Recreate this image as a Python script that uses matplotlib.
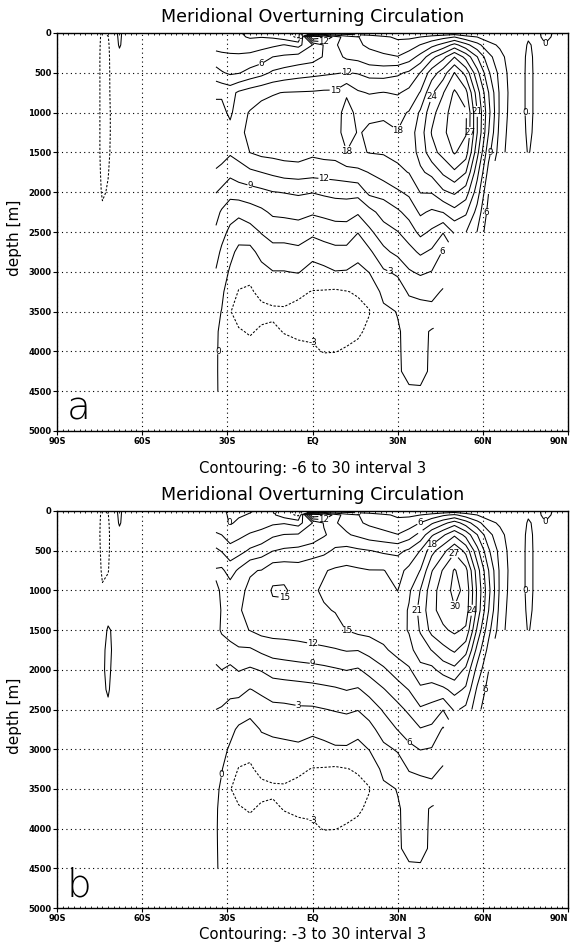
import numpy as np
import matplotlib
matplotlib.use("Agg")
import matplotlib.pyplot as plt

nan = np.nan

# ---------------- data ----------------
depth = [0, 50, 150, 300, 500, 750, 1000, 1250, 1500, 1750, 2000, 2250,
         2500, 2750, 3000, 3250, 3500, 3750, 4000, 4250, 4500]

lat_atl = [-34, -32, -29, -26, -22, -18, -14, -10, -5, 0, 4, 8, 12, 16, 20, 25,
           30, 34, 38, 42, 46, 50, 54, 58, 62, 66, 70, 73, 76, 79, 82, 86, 90]

NN = [nan] * 12          # below sea floor (north of 65N)

# Atlantic streamfunction [Sv], panel a : one list per latitude (top -> bottom)
psi_atl_a = [
    [0.5, 1, 2, 4, 7.2, 11.5, 13, 13.6, 13.3, 11.7, 9.1, 7, 5.5, 4, 2.8, 1.6, 0.8, 0.5, 0.4, 0.3, 0.2],
    [0.5, 1, 1.9, 3.7, 6.3, 11.5, 13, 14, 13.4, 11, 8.3, 5.6, 4, 2.5, 1.5, 0.7, -0.1, -0.8, -0.9, -0.7, -0.4],
    [0.3, 0.8, 1.8, 3.5, 5.5, 11, 11.3, 13.2, 12.4, 9.8, 7, 4.2, 2.3, 0.8, -0.4, -2, -2.9, -2.5, -1.8, -1.2, -0.6],
    [0.2, 0.5, 1.6, 3.5, 5.8, 12.5, 14, 14.5, 13.2, 10.5, 7.5, 3.7, 1.3, -0.7, -2.2, -3.1, -3.8, -2.8, -2, -1.3, -0.6],
    [-0.5, -0.3, 1.5, 3.8, 7, 13.5, 15.2, 15.5, 15.05, 11.4, 7.8, 4.6, 1.8, -0.9, -2.4, -3.3, -4, -3.2, -2.3, -1.5, -0.7],
    [-0.8, -0.1, 2, 4.5, 8, 14.3, 16, 16.5, 15.8, 12, 8.3, 5.4, 3.2, 1, -1, -2.4, -3.6, -2.7, -2, -1.3, -0.6],
    [-1, -0.4, 2.4, 6, 9.5, 14.8, 16.2, 16.8, 16, 12.6, 8.9, 6.5, 4.2, 2, -0.1, -2, -3.4, -2.6, -1.9, -1.2, -0.6],
    [-2.5, -1.5, 3.1, 6.5, 10.2, 15.1, 16.5, 17, 16.3, 13.2, 9.1, 6.7, 4.2, 2, -0.1, -1.8, -3.4, -3.1, -2.2, -1.4, -0.6],
    [-3.5, -3.6, 2, 7.2, 10.8, 15.2, 16.8, 17.2, 16.5, 13.4, 9.4, 7, 4.5, 2.3, 0.2, -2.6, -3.6, -3.3, -2.6, -1.6, -0.7],
    [-0.3, 18, 6, 7.8, 11.2, 15.3, 17, 17.3, 15.6, 13.1, 9.1, 6.4, 3.6, 1.2, -1.3, -3.1, -3.8, -3.4, -2.7, -1.7, -0.8],
    [0.5, 16, 9.2, 9.2, 11.5, 15.5, 17.2, 17.5, 16, 13.2, 9.5, 6.8, 4.1, 1.8, -0.8, -3.2, -4, -3.6, -3.1, -1.8, -0.8],
    [0.5, 10.5, 9.2, 10, 11.8, 15.5, 16.2, 16.5, 16.1, 13.4, 9.8, 7.2, 4.6, 2.2, -0.1, -3.4, -4.1, -3.8, -3.05, -1.9, -0.9],
    [0.5, 7.5, 8.2, 8.5, 12.1, 17.5, 19.5, 19.5, 17.9, 13.8, 9.9, 7.3, 4.6, 2.2, -0.2, -3.1, -4, -3.6, -2.8, -1.8, -0.8],
    [0.5, 6.1, 6.4, 8.1, 11.8, 15.4, 17, 17.8, 17.6, 14.3, 10, 6.4, 3.1, 1.2, -1, -2.7, -3.8, -3.3, -2.5, -1.6, -0.8],
    [0.5, 5, 5.5, 7, 11, 14.8, 17.5, 18.4, 18.1, 15.1, 12.8, 7.9, 5.4, 2.4, 0.1, -2.2, -3.1, -2.6, -2, -1.3, -0.7],
    [0.5, 3.5, 4.5, 6.6, 10.8, 15.1, 17.6, 18.6, 18.2, 16.5, 13, 10.3, 7.6, 5.3, 2.6, 0.8, -0.6, -1, -1, -0.8, -0.5],
    [0.5, 2.5, 4, 6.1, 11.5, 14.7, 17.3, 18.1, 18.7, 17.4, 14.6, 11.5, 8.9, 6.8, 3.5, 1.5, 0.1, -0.2, -0.2, -0.2, -0.3],
    [0.5, 2.5, 4.5, 7.5, 12.5, 15.8, 18.2, 19.5, 19.3, 18.1, 15.6, 13, 10.5, 8, 5.7, 3.4, 1.5, 0.6, 0.5, 0.4, -0.2],
    [0.5, 3, 6.1, 10, 15.1, 18.2, 21.5, 22.5, 22, 20.5, 18.1, 15.5, 12.8, 9.5, 6.5, 3.8, 1.8, 0.8, 0.6, 0.5, -0.2],
    [0.5, 4, 8, 14, 19.5, 23.5, 26, 27.2, 26, 21.8, 18.2, 14.5, 11.5, 8.5, 5.9, 3.8, 2.2, -0.3, -0.3, -0.3, -0.3],
    [0.5, 5, 10, 17, 22.5, 26.8, 28.8, 29.5, 28, 24.5, 20.5, 15.1, 9.2, 5.7, 4.5, 2.7, 1.5, nan, nan, nan, nan],
    [1, 6, 13, 20.9, 27.1, 30.5, 31.5, 31.3, 30.3, 26.5, 21.5, 17, 12.5] + [nan] * 8,
    [0.5, 4, 10, 17, 23, 28, 30.5, 30.3, 28.5, 24.1, 19.5, 15.5, 12.1] + [nan] * 8,
    [0.5, 3, 7, 12.1, 16, 19.5, 21.1, 21.1, 19, 16, 13.5, 11, 8.9] + [nan] * 8,
    [0.3, 1.5, 4, 7, 9.5, 12.1, 13, 12.1, 10, 8, 6.1, 5, 4] + [nan] * 8,
    [0.3, 1, 2.5, 4, 5, 5.5, 5.5, 5, 4.5] + NN,
    [0.3, 0.5, 1, 1.5, 1.8, 2, 1.8, 1.5, 1.2] + NN,
    [0.5, 0.6, 1, 1, 1, 1, 1, 1, 0.8] + NN,
    [0.3, 0.2, -0.2, -0.5, -0.6, -0.6, -0.6, -0.4, -0.1] + NN,
    [0.5, 0.4, 0.4, 0.5, 0.5, 0.5, 0.5, 0.5, 0.5] + NN,
    [-0.6, -0.4, 0.1, 0.4, 0.4, 0.4, 0.4, 0.4, 0.4] + NN,
    [0.4, 0.4, 0.4, 0.4, 0.4, 0.4, 0.4, 0.4, 0.4] + NN,
    [0.3, 0.3, 0.3, 0.3, 0.3, 0.3, 0.3, 0.3, 0.3] + NN,
]

# Atlantic streamfunction [Sv], panel b
psi_atl_b = [
    [0.8, 1.2, 1.8, 3.3, 6.6, 9.3, 8.7, 8.4, 8.5, 7.3, 5.5, 4, 3, 2.2, 1.6, 1, 0.6, 0.4, 0.3, 0.3, 0.2],
    [0.6, 0.9, 1.5, 3, 5.8, 9.6, 9.2, 9.1, 9.2, 8.2, 6, 4.2, 2.8, 1.8, 0.9, 0.2, -0.5, -1, -1, -0.8, -0.4],
    [-0.6, -0.5, -0.3, 1.5, 4.2, 7.7, 10.5, 11.5, 10.3, 8, 5.3, 3.6, 2.3, 0.8, -0.4, -2, -2.9, -2.5, -1.8, -1.2, -0.6],
    [-0.4, -0.3, 0.5, 2.3, 4.8, 9.5, 11.5, 11.8, 11.2, 8.6, 6.2, 3.8, 1.8, -0.5, -2, -3.1, -3.8, -2.8, -2, -1.3, -0.6],
    [-0.2, 0.2, 1.3, 3.3, 6.5, 11.8, 12.4, 12.6, 12.1, 8.6, 5.6, 2.9, 1, -1.2, -2.4, -3.3, -4, -3.2, -2.3, -1.5, -0.7],
    [0.5, 0.8, 1.8, 4, 7.5, 12.1, 13.5, 13.8, 13, 9.6, 6.2, 3.5, 1.8, 0.2, -1.2, -2.4, -3.6, -2.7, -2, -1.3, -0.6],
    [0.3, 0.5, 2.5, 5.5, 8.9, 14, 15.3, 14.3, 13.3, 10.2, 7.3, 4.2, 2.3, 0.5, -0.8, -2, -3.4, -2.6, -1.9, -1.2, -0.6],
    [-2.5, -1.5, 2.8, 6.1, 9.5, 14, 15.4, 14.3, 13.3, 10.5, 7.5, 4.5, 2.3, 0.6, -0.6, -1.8, -3.4, -3.1, -2.2, -1.4, -0.6],
    [-3.5, -3.6, 1.8, 6.3, 9.8, 13.5, 13.8, 14, 13.5, 10.8, 7.8, 4.7, 2.6, 0.9, -0.5, -2.6, -3.6, -3.3, -2.6, -1.6, -0.7],
    [-0.3, 18, 6, 7.3, 10.5, 14.3, 14.7, 14.6, 13.8, 11.2, 8, 5, 2.6, 0.7, -1.3, -3.1, -3.8, -3.4, -2.7, -1.7, -0.8],
    [0.5, 16, 9.2, 8.7, 11.2, 14.8, 15.3, 14.8, 14, 11.5, 8.3, 5.3, 2.9, 1, -0.8, -3.2, -4, -3.6, -3.1, -1.8, -0.8],
    [0.5, 10.5, 9.2, 10, 12.5, 15.4, 16, 15.1, 14.3, 11.8, 8.7, 5.6, 3.2, 1.2, -0.3, -3.4, -4.1, -3.8, -3.05, -1.9, -0.9],
    [0.5, 7.5, 8.2, 9.3, 13, 15.7, 16.3, 16, 15.05, 12.2, 9.1, 6.1, 3.5, 1.3, -0.3, -3.1, -4, -3.6, -2.8, -1.8, -0.8],
    [0.5, 6.1, 6.4, 8.5, 12.5, 15.4, 16.5, 16.6, 15.8, 12.1, 8.7, 5.7, 3.1, 1, -1, -2.7, -3.8, -3.3, -2.5, -1.6, -0.8],
    [0.5, 5, 5.5, 7.5, 12.1, 15.1, 16.6, 16.8, 16, 13, 10, 7, 4.3, 2, 0.1, -2.2, -3.1, -2.6, -2, -1.3, -0.7],
    [0.5, 3.5, 4.5, 7, 11.5, 15.1, 16.5, 17, 16.3, 14.5, 11.5, 8.8, 6.3, 4.3, 2.3, 0.8, -0.6, -1, -1, -0.8, -0.5],
    [0.5, 2.5, 4, 6.1, 11.3, 14, 14.95, 16.3, 17, 16, 13.5, 10.6, 8.1, 6.1, 3.3, 1.5, 0.1, -0.2, -0.2, -0.2, -0.3],
    [0.5, 2.5, 4.5, 7.5, 12.5, 15.8, 17.5, 18.3, 18.2, 17.1, 14.6, 12.1, 9.6, 7.3, 5.3, 3.2, 1.5, 0.6, 0.5, 0.4, -0.2],
    [0.5, 3, 6.1, 10, 15.1, 18.1, 21.1, 22, 21.3, 19.5, 17.1, 14.4, 11.6, 8.8, 6.1, 3.6, 1.8, 0.8, 0.6, 0.5, -0.2],
    [0.5, 4, 8.5, 14.5, 20, 23.8, 25.8, 26.2, 25, 21.1, 17.2, 13.8, 11, 8.3, 5.8, 3.8, 2.2, -0.3, -0.3, -0.3, -0.3],
    [0.5, 5.5, 11, 17.5, 23, 27.3, 28.5, 28.2, 26.5, 23.1, 19.3, 14.3, 9.1, 5.6, 4.4, 2.7, 1.5, nan, nan, nan, nan],
    [1, 6.5, 13.5, 20.5, 26.5, 30.3, 30.8, 29.8, 27.6, 24.5, 20.2, 16, 12.5] + [nan] * 8,
    [0.5, 4.5, 10.5, 17, 23.1, 28, 29.3, 28.8, 26.5, 22.1, 17.3, 14.5, 11.3] + [nan] * 8,
    [0.5, 3, 7, 12.1, 16, 19.5, 20.5, 20.1, 17.5, 14, 11, 8.5, 7] + [nan] * 8,
    [0.3, 1.5, 4, 7, 9.5, 12.1, 13, 12.1, 10, 8, 6.1, 5, 4] + [nan] * 8,
    [0.3, 1, 2.5, 4, 5, 5.5, 5.5, 5, 4.5] + NN,
    [0.3, 0.5, 1, 1.5, 1.8, 2, 1.8, 1.5, 1.2] + NN,
    [0.5, 0.6, 1, 1, 1, 1, 1, 1, 0.8] + NN,
    [0.3, 0.2, -0.2, -0.5, -0.6, -0.6, -0.6, -0.4, -0.1] + NN,
    [0.5, 0.4, 0.4, 0.5, 0.5, 0.5, 0.5, 0.5, 0.5] + NN,
    [-0.6, -0.4, 0.1, 0.4, 0.4, 0.4, 0.4, 0.4, 0.4] + NN,
    [0.4, 0.4, 0.4, 0.4, 0.4, 0.4, 0.4, 0.4, 0.4] + NN,
    [0.3, 0.3, 0.3, 0.3, 0.3, 0.3, 0.3, 0.3, 0.3] + NN,
]

# Southern Ocean part (south of 36S), drawn separately
lat_so = [-90, -84, -78, -76, -74, -72, -70, -68, -66, -60, -50, -40, -36]
M1 = [-1.0] * 21
psi_so_a = [
    M1, M1,
    [-1.2] * 21,
    [-1.5, -1.6, -1.8, -2, -2, -2, -2, -2, -2, -1.9, -1.8, -1.5, -1.2, -1, -1, -1, -1, -1, -1, -1, -1],
    [-3.5, -3.7, -3.8, -3.8, -3.8, -3.8, -3.8, -3.8, -3.8, -3.6, -3.3, -2.6, -1.8, -1.2, -1, -1, -1, -1, -1, -1, -1],
    [-2.5, -3.1, -3.3, -3.4, -3.4, -3.4, -3.5, -3.5, -3.4, -3.1, -2.8, -2, -1.5, -1.2, -1, -1, -1, -1, -1, -1, -1],
    [-1, -1.2, -1.5, -1.8, -2, -2.1, -2.2, -2.2, -2.1, -2, -1.8, -1.5, -1.2, -1, -1, -1, -1, -1, -1, -1, -1],
    [0.6, 0.5, 0.3, -0.8, -1, -1.2, -1.2, -1.2, -1, -1, -1, -1, -1, -1, -1, -1, -1, -1, -1, -1, -1],
    M1, M1, M1, M1, M1,
]
psi_so_b = [
    M1, M1,
    [-1.2] * 21,
    [-1.5, -1.6, -1.8, -2, -2, -2, -2, -1.8, -1.5, -1.2, -1, -1, -1, -1, -1, -1, -1, -1, -1, -1, -1],
    [-3.5, -3.7, -3.8, -3.8, -3.6, -3.3, -2.8, -2.2, -1.5, -0.5, -0.3, -0.5, -1, -1, -1, -1, -1, -1, -1, -1, -1],
    [-2.5, -3.1, -3.3, -3.4, -3.3, -3.1, -2.4, -1.5, 0.4, 0.6, 0.5, 0.3, -0.5, -1, -1, -1, -1, -1, -1, -1, -1],
    [-1, -1.2, -1.5, -1.8, -2, -1.8, -1.5, -1, -0.5, -0.4, -0.6, -1, -1, -1, -1, -1, -1, -1, -1, -1, -1],
    [0.6, 0.5, 0.3, -0.8, -1, -1.2, -1.2, -1.2, -1, -1, -1, -1, -1, -1, -1, -1, -1, -1, -1, -1, -1],
    M1, M1, M1, M1, M1,
]

levels_a = list(range(-6, 31, 3))
levels_b = list(range(-3, 31, 3))
xlabel_a = "Contouring: -6 to 30 interval 3"
xlabel_b = "Contouring: -3 to 30 interval 3"
title = "Meridional Overturning Circulation"
xticks = [-90, -60, -30, 0, 30, 60, 90]
xticklabels = ["90S", "60S", "30S", "EQ", "30N", "60N", "90N"]
yticks = list(range(0, 5001, 500))

# ---------------- drawing ----------------
plt.rcParams["font.family"] = ["DejaVu Sans"]
plt.rcParams["lines.dashed_pattern"] = [2.2, 1.6]
plt.rcParams["contour.negative_linestyle"] = "dashed"

W, H = 574, 942
fig = plt.figure(figsize=(W / 100, H / 100), dpi=100)
renderer = fig.canvas.get_renderer()


def fit_text(x, y, s, width_px, **kw):
    t = fig.text(x / W, 1 - y / H, s, ha="center", va="center", **kw)
    t.set_fontsize(10)
    w = t.get_window_extent(renderer).width
    t.set_fontsize(10 * width_px / w)
    return t


def panel(top, bottom, psi_atl, psi_so, levels, xlabel, letter, title_y, xlabel_y):
    ax = fig.add_axes([57 / W, 1 - bottom / H, 511 / W, (bottom - top) / H])
    Z = np.array(psi_atl, dtype=float).T
    Zs = np.array(psi_so, dtype=float).T
    ax.contour(lat_so, depth, Zs, levels=levels, colors="k", linewidths=0.75)
    cs = ax.contour(lat_atl, depth, Z, levels=levels, colors="k", linewidths=0.75)
    ax.set_xlim(-90, 90)
    ax.set_ylim(5000, 0)
    labels = ax.clabel(cs, fmt="%d", fontsize=6.3, inline=True, inline_spacing=0)
    # horizontal labels (as in the original), drop any that collide
    kept = []
    for t in labels:
        t.set_rotation(0)
        bb = t.get_window_extent(renderer).expanded(1.15, 1.15)
        if any(bb.overlaps(k) for k in kept):
            t.set_visible(False)
        else:
            kept.append(bb)
    ax.set_xticks(xticks)
    ax.set_xticklabels(xticklabels, fontsize=6, fontweight="bold")
    ax.get_xticklabels()[-1].set_horizontalalignment("right")
    ax.set_yticks(yticks)
    ax.set_yticklabels([str(v) for v in yticks], fontsize=6, fontweight="bold")
    ax.set_xticks(np.arange(-90, 91, 2), minor=True)
    ax.tick_params(axis="x", which="minor", length=1.5, direction="in", top=True, width=0.6)
    ax.tick_params(axis="x", which="major", length=3, pad=1, width=0.8)
    ax.tick_params(axis="y", which="major", length=3, pad=1, width=0.8)
    ax.grid(True, which="major", color="k", linestyle=(0, (1, 3)), linewidth=0.8)
    for s in ax.spines.values():
        s.set_linewidth(1.0)
    ax.text(-86.5, 4860, letter, fontsize=28, ha="left", va="baseline",
            family=["DejaVu Sans"], fontweight="light")
    fit_text(312.5, title_y, title, 301)
    fit_text(312.5, xlabel_y, xlabel, 225)
    yc = (top + bottom) / 2 + 6
    fig.text(15 / W, 1 - yc / H, "depth [m]", rotation=90, ha="center", va="center",
             fontsize=11)
    return ax


panel(33, 431, psi_atl_a, psi_so_a, levels_a, xlabel_a, "a", 17, 468)
panel(511, 908, psi_atl_b, psi_so_b, levels_b, xlabel_b, "b", 495, 935)

fig.savefig("out.png", dpi=100)
